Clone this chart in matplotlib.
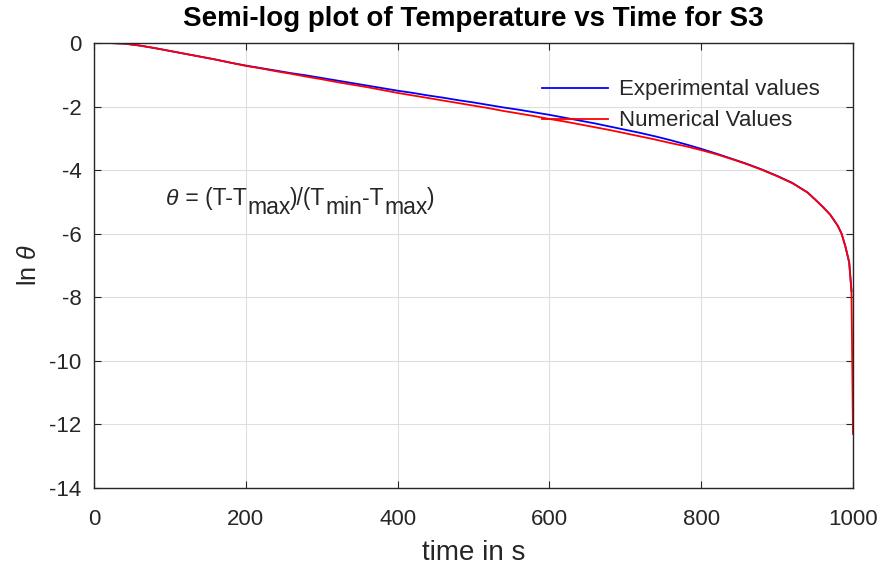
import numpy as np
import matplotlib.pyplot as plt

plt.rcParams['font.family'] = ['Liberation Sans', 'DejaVu Sans']
plt.rcParams['mathtext.fontset'] = 'custom'
plt.rcParams['mathtext.rm'] = 'Liberation Sans'
plt.rcParams['mathtext.it'] = 'Liberation Sans:italic'
plt.rcParams['axes.unicode_minus'] = False

# time in s
t = [0, 20, 40, 60, 80, 100, 120, 140, 160, 180, 200, 220, 240, 260, 280, 300,
     320, 340, 360, 380, 400, 420, 440, 460, 480, 500, 520, 540, 560, 580, 600,
     620, 640, 660, 680, 700, 720, 740, 760, 780, 800, 820, 840, 860, 880, 900,
     920, 940, 950, 960, 970, 980, 985, 990, 995, 998]

# ln(theta) from thermocouple readings
ln_exp = [0, 0, -0.02, -0.08, -0.16, -0.25, -0.34, -0.43, -0.52, -0.62, -0.71,
          -0.79, -0.87, -0.95, -1.02, -1.10, -1.18, -1.26, -1.34, -1.42, -1.50,
          -1.57, -1.65, -1.72, -1.80, -1.87, -1.95, -2.03, -2.10, -2.18, -2.26,
          -2.35, -2.44, -2.53, -2.63, -2.73, -2.83, -2.94, -3.06, -3.19, -3.33,
          -3.48, -3.64, -3.80, -3.98, -4.18, -4.40, -4.70, -4.92, -5.15, -5.40,
          -5.75, -6.0, -6.4, -6.9, -7.8]

# ln(theta) from the numerical solution
t_num = t + [1000]
ln_num = [0, 0, -0.02, -0.08, -0.16, -0.25, -0.34, -0.43, -0.52, -0.62, -0.72,
          -0.80, -0.89, -0.97, -1.06, -1.14, -1.23, -1.31, -1.39, -1.48, -1.57,
          -1.65, -1.73, -1.81, -1.89, -1.97, -2.05, -2.14, -2.22, -2.30, -2.39,
          -2.47, -2.56, -2.65, -2.74, -2.84, -2.94, -3.04, -3.15, -3.25, -3.37,
          -3.50, -3.65, -3.81, -3.99, -4.19, -4.41, -4.70, -4.92, -5.15, -5.40,
          -5.75, -6.0, -6.4, -6.9, -7.8, -12.3]

fig = plt.figure(figsize=(8.83, 5.68), dpi=100)
ax = fig.add_axes([0.1065, 0.1408, 0.8595, 0.7835])

ax.plot(t, ln_exp, color='#0000ff', lw=1.3, label='Experimental values')
ax.plot(t_num, ln_num, color='#ff0000', lw=1.3, label='Numerical Values')

ax.set_xlim(0, 1000)
ax.set_ylim(-14, 0)
ax.set_xticks(np.arange(0, 1001, 200))
ax.set_yticks(np.arange(-14, 1, 2))
ax.grid(True, color='#dedede', lw=0.8)
ax.set_axisbelow(True)
ax.tick_params(direction='in', top=True, right=True, labelsize=16, colors='#262626',
               length=5)
ax.tick_params(axis='x', pad=15)
ax.tick_params(axis='y', pad=9)
for s in ax.spines.values():
    s.set_color('#262626')
    s.set_linewidth(1.0)

ax.set_title('Semi-log plot of Temperature vs Time for S3', fontsize=20,
             fontweight='bold', pad=12)
ax.set_xlabel('time in s', fontsize=20, color='#262626', labelpad=7)
ax.set_ylabel(r'ln $\theta$', fontsize=18, color='#262626', labelpad=6)

# theta definition, subscripts drawn at full size and lowered
fig.canvas.draw()
renderer = fig.canvas.get_renderer()
pieces = [(r'$\theta$', False), (' = (T-T', False), ('max', True), (')/(T', False),
          ('min', True), ('-T', False), ('max', True), (')', False)]
x_px, y_px = 165, 568 - 205
for s, sub in pieces:
    txt = fig.text(x_px / 883, (y_px - (9 if sub else 0)) / 568, s, fontsize=16.5,
                   color='#262626', va='baseline', ha='left')
    x_px += txt.get_window_extent(renderer).width

ax.legend(loc='upper right', bbox_to_anchor=(0.983, 0.963), frameon=False,
          fontsize=16, handlelength=3.0, labelspacing=0.45, handletextpad=0.5,
          labelcolor='#262626')

fig.savefig('out.png', dpi=100)
